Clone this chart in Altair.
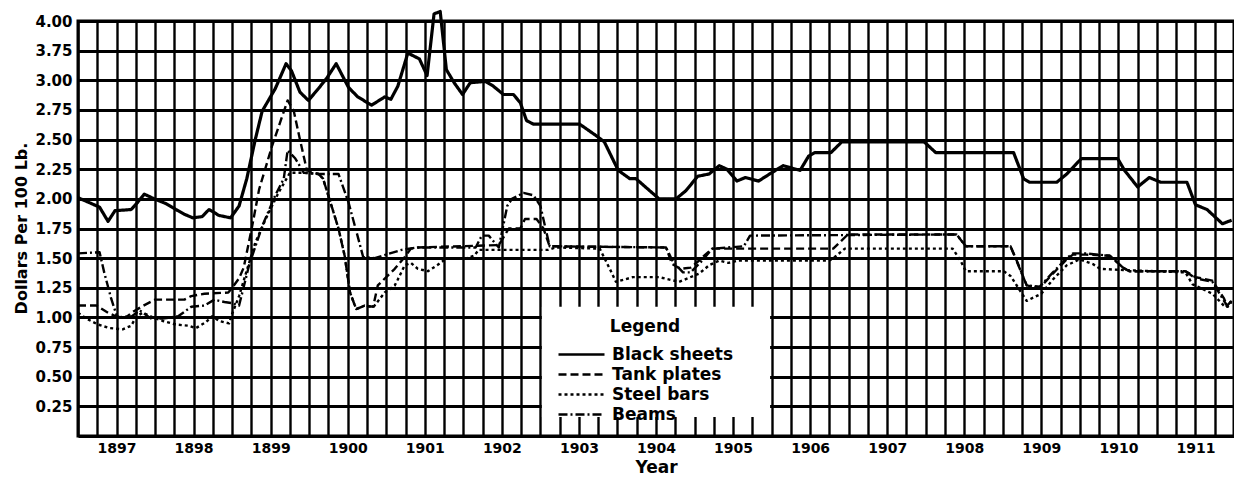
import altair as alt
import pandas as pd

SERIES = ["Black sheets", "Tank plates", "Steel bars", "Beams"]
DASHES = [[1, 0], [8, 4], [3, 3], [9, 3, 2, 3]]

BLACK_SHEETS = [
    (1897.00, 2.01), (1897.28, 1.93), (1897.39, 1.81), (1897.48, 1.90), (1897.69, 1.91),
    (1897.76, 1.96), (1897.86, 2.04), (1897.99, 2.00), (1898.14, 1.96), (1898.27, 1.91),
    (1898.38, 1.87), (1898.49, 1.84), (1898.61, 1.85), (1898.70, 1.91), (1898.83, 1.86),
    (1898.98, 1.84), (1899.09, 1.94), (1899.19, 2.17), (1899.30, 2.50), (1899.39, 2.74),
    (1899.56, 2.93), (1899.70, 3.14), (1899.77, 3.08), (1899.88, 2.90), (1899.99, 2.83),
    (1900.12, 2.93), (1900.23, 3.02), (1900.35, 3.14), (1900.51, 2.94), (1900.63, 2.86),
    (1900.81, 2.79), (1900.98, 2.86), (1901.06, 2.84), (1901.15, 2.95), (1901.28, 3.23),
    (1901.43, 3.18), (1901.53, 3.04), (1901.62, 3.56), (1901.70, 3.58), (1901.78, 3.09),
    (1901.88, 2.98), (1901.99, 2.88), (1902.09, 2.98), (1902.29, 2.99), (1902.39, 2.95),
    (1902.52, 2.88), (1902.65, 2.88), (1902.74, 2.81), (1902.82, 2.66), (1902.91, 2.63),
    (1903.51, 2.63), (1903.73, 2.53), (1903.83, 2.48), (1904.01, 2.24), (1904.16, 2.17),
    (1904.24, 2.17), (1904.54, 2.00), (1904.76, 2.00), (1904.89, 2.07), (1905.04, 2.19),
    (1905.19, 2.21), (1905.32, 2.28), (1905.42, 2.25), (1905.55, 2.15), (1905.66, 2.18),
    (1905.83, 2.15), (1906.00, 2.22), (1906.15, 2.28), (1906.37, 2.24), (1906.48, 2.36),
    (1906.56, 2.39), (1906.77, 2.39), (1906.91, 2.48), (1907.98, 2.48), (1908.13, 2.39),
    (1909.14, 2.39), (1909.27, 2.17), (1909.35, 2.14), (1909.70, 2.14), (1909.83, 2.21),
    (1910.02, 2.34), (1910.49, 2.34), (1910.58, 2.24), (1910.75, 2.10), (1910.90, 2.18),
    (1911.05, 2.14), (1911.39, 2.14), (1911.50, 1.95), (1911.65, 1.91), (1911.85, 1.79),
    (1911.97, 1.82),
]

TANK_PLATES = [
    (1897.00, 1.10), (1897.24, 1.10), (1897.39, 1.04), (1897.49, 1.01), (1897.62, 1.00),
    (1897.72, 1.05), (1897.85, 1.10), (1898.00, 1.15), (1898.38, 1.15), (1898.47, 1.18),
    (1898.64, 1.20), (1898.95, 1.21), (1899.00, 1.25), (1899.09, 1.33), (1899.15, 1.42),
    (1899.26, 1.77), (1899.35, 2.08), (1899.52, 2.45), (1899.72, 2.83), (1899.80, 2.74),
    (1899.88, 2.50), (1899.97, 2.24), (1900.12, 2.21), (1900.18, 2.17), (1900.29, 1.94),
    (1900.38, 1.75), (1900.46, 1.52), (1900.53, 1.21), (1900.61, 1.07), (1900.72, 1.10),
    (1900.83, 1.09), (1900.89, 1.27), (1901.11, 1.41), (1901.24, 1.51), (1901.32, 1.58),
    (1901.41, 1.59), (1902.46, 1.61), (1902.59, 1.75), (1902.74, 1.75), (1902.80, 1.83),
    (1902.95, 1.83), (1903.04, 1.75), (1903.12, 1.60), (1904.63, 1.59), (1904.71, 1.45),
    (1904.82, 1.41), (1904.95, 1.42), (1905.06, 1.48), (1905.14, 1.53), (1905.23, 1.58),
    (1906.80, 1.58), (1906.99, 1.70), (1908.40, 1.70), (1908.52, 1.60), (1909.10, 1.60),
    (1909.20, 1.45), (1909.31, 1.27), (1909.48, 1.25), (1909.65, 1.37), (1909.83, 1.49),
    (1909.91, 1.53), (1910.08, 1.53), (1910.39, 1.52), (1910.56, 1.42), (1910.64, 1.39),
    (1911.37, 1.39), (1911.50, 1.34), (1911.72, 1.31), (1911.87, 1.16), (1911.91, 1.10),
    (1911.97, 1.14),
]

STEEL_BARS = [
    (1897.00, 1.04), (1897.11, 0.99), (1897.26, 0.94), (1897.41, 0.91), (1897.58, 0.90),
    (1897.69, 0.93), (1897.76, 1.01), (1897.84, 1.04), (1897.97, 1.00), (1898.10, 0.97),
    (1898.27, 0.94), (1898.44, 0.93), (1898.53, 0.91), (1898.66, 0.96), (1898.74, 1.01),
    (1898.83, 0.97), (1898.96, 0.95), (1899.00, 1.03), (1899.09, 1.18), (1899.22, 1.46),
    (1899.30, 1.63), (1899.45, 1.85), (1899.60, 2.05), (1899.75, 2.22), (1899.93, 2.22),
    (1900.12, 2.21), (1900.18, 2.17), (1900.29, 1.94), (1900.38, 1.75), (1900.46, 1.52),
    (1900.53, 1.21), (1900.61, 1.07), (1900.72, 1.10), (1900.83, 1.085), (1900.98, 1.21),
    (1901.11, 1.27), (1901.15, 1.32), (1901.24, 1.44), (1901.32, 1.46), (1901.41, 1.41),
    (1901.54, 1.39), (1901.66, 1.44), (1901.79, 1.50), (1902.05, 1.50), (1902.14, 1.52),
    (1902.20, 1.57), (1903.10, 1.57), (1903.20, 1.59), (1903.77, 1.58), (1903.90, 1.41),
    (1903.98, 1.30), (1904.20, 1.34), (1904.54, 1.34), (1904.80, 1.30), (1905.06, 1.37),
    (1905.19, 1.44), (1905.32, 1.48), (1905.44, 1.46), (1905.57, 1.48), (1906.75, 1.48),
    (1906.82, 1.51), (1906.95, 1.58), (1908.35, 1.58), (1908.45, 1.48), (1908.52, 1.39),
    (1909.01, 1.39), (1909.10, 1.35), (1909.31, 1.14), (1909.50, 1.20), (1909.65, 1.32),
    (1909.83, 1.44), (1910.00, 1.49), (1910.17, 1.45), (1910.26, 1.41), (1910.56, 1.40),
    (1911.37, 1.38), (1911.46, 1.28), (1911.72, 1.20), (1911.89, 1.085), (1911.97, 1.13),
]

BEAMS = [
    (1897.00, 1.54), (1897.28, 1.55), (1897.34, 1.38), (1897.43, 1.16), (1897.51, 1.00),
    (1897.70, 1.01), (1897.80, 1.06), (1897.95, 0.99), (1898.10, 0.99), (1898.30, 1.01),
    (1898.47, 1.09), (1898.64, 1.10), (1898.77, 1.15), (1898.90, 1.13), (1899.00, 1.12),
    (1899.09, 1.10), (1899.22, 1.44), (1899.39, 1.77), (1899.56, 2.03), (1899.67, 2.17),
    (1899.72, 2.41), (1899.82, 2.34), (1899.93, 2.22), (1900.12, 2.21), (1900.38, 2.21),
    (1900.51, 1.97), (1900.61, 1.73), (1900.70, 1.51), (1900.85, 1.50), (1901.00, 1.53),
    (1901.20, 1.57), (1901.40, 1.59), (1902.16, 1.59), (1902.24, 1.69), (1902.33, 1.69),
    (1902.42, 1.62), (1902.46, 1.59), (1902.57, 1.94), (1902.63, 2.00), (1902.78, 2.05),
    (1902.91, 2.03), (1903.00, 1.94), (1903.12, 1.60), (1904.63, 1.59), (1904.72, 1.47),
    (1904.85, 1.38), (1904.95, 1.38), (1905.10, 1.48), (1905.23, 1.58), (1905.64, 1.60),
    (1905.72, 1.69), (1908.40, 1.70), (1908.52, 1.60), (1909.10, 1.60), (1909.31, 1.27),
    (1909.48, 1.26), (1909.65, 1.38), (1909.83, 1.50), (1909.91, 1.54), (1910.08, 1.54),
    (1910.39, 1.52), (1910.56, 1.42), (1910.64, 1.39), (1911.37, 1.39), (1911.50, 1.33),
    (1911.72, 1.30), (1911.87, 1.14), (1911.92, 1.09), (1911.97, 1.15),
]

# printed tick labels (as in the original print, index = value / 0.25)
Y_TICK_LABELS = ["", "0.25", "0.50", "0.75", "1.00", "1.25", "1.50", "1.75", "2.00",
                 "2.25", "2.50", "2.75", "3.00", "3.75", "4.00"]
X_START, X_END = 1897, 1912
LEGEND_BOX_X = [1903, 1906]
LEGEND_BOX_Y = [0.16, 1.09]

FONT = "DejaVu Sans"

rows = []
for name, pts in zip(SERIES, [BLACK_SHEETS, TANK_PLATES, STEEL_BARS, BEAMS]):
    for i, (t, v) in enumerate(pts):
        rows.append({"series": name, "t": t, "v": v, "i": i})
df = pd.DataFrame(rows)

x_scale = alt.Scale(domain=[X_START, X_END], nice=False, zero=False)
y_scale = alt.Scale(domain=[0, 3.5], nice=False, zero=False)

x_grid_vals = [X_START + k * 0.25 for k in range(int((X_END - X_START) * 4) + 1)]
y_grid_vals = [k * 0.25 for k in range(len(Y_TICK_LABELS))]

label_array = "[" + ",".join("'" + s + "'" for s in Y_TICK_LABELS) + "]"

x_axis = alt.Axis(
    values=x_grid_vals, grid=True, gridColor="black", gridWidth=2.4, gridOpacity=1,
    ticks=False, domain=False, labelOverlap=False, labelFlush=False, labelBound=False,
    labelExpr="(datum.value % 1 == 0.5) ? format(floor(datum.value), 'd') : ''",
    labelFont=FONT, labelFontSize=14, labelFontWeight="bold", labelColor="black",
    labelPadding=5, title="Year", titleFont=FONT, titleFontSize=17,
    titleFontWeight="bold", titleColor="black", titleY=31, titleBaseline="middle",
)
y_axis = alt.Axis(
    values=y_grid_vals, grid=True, gridColor="black", gridWidth=2.8, gridOpacity=1,
    ticks=False, domain=False, labelOverlap=False, labelFlush=False,
    labelExpr=label_array + "[round(datum.value * 4)]",
    labelFont=FONT, labelFontSize=15, labelFontWeight="bold", labelColor="black",
    labelPadding=6, title="Dollars Per 100 Lb.", titleFont=FONT, titleFontSize=16,
    titleFontWeight="bold", titleColor="black", titleAngle=270, titleX=-57,
    titleY=207, titleAlign="center", titleBaseline="middle",
)

box_df = pd.DataFrame({"x": [LEGEND_BOX_X[0]], "x2": [LEGEND_BOX_X[1]],
                       "y": [LEGEND_BOX_Y[0]], "y2": [LEGEND_BOX_Y[1]]})
box = alt.Chart(box_df).mark_rect(color="white", xOffset=1.5, x2Offset=-1.5).encode(
    x=alt.X("x:Q", scale=x_scale, axis=x_axis),
    x2="x2:Q",
    y=alt.Y("y:Q", scale=y_scale, axis=y_axis),
    y2="y2:Q",
)

lines = alt.Chart(df).mark_line(color="black", strokeJoin="round", strokeCap="butt").encode(
    x=alt.X("t:Q", scale=x_scale, axis=x_axis),
    y=alt.Y("v:Q", scale=y_scale, axis=y_axis),
    order="i:Q",
    strokeDash=alt.StrokeDash(
        "series:N",
        scale=alt.Scale(domain=SERIES, range=DASHES),
        legend=alt.Legend(
            title="Legend", orient="none", legendX=479, legendY=298, padding=0,
            titleFont=FONT, titleFontSize=17, titleFontWeight="bold", titleColor="black",
            titleAnchor="middle", titlePadding=10,
            labelFont=FONT, labelFontSize=17, labelFontWeight="bold", labelColor="black",
            labelLimit=400, labelOffset=6, rowPadding=2,
            symbolType="stroke", symbolSize=2116, symbolStrokeWidth=2.6,
            symbolStrokeColor="black", clipHeight=17,
        ),
    ),
    strokeWidth=alt.condition(alt.datum.series == "Black sheets", alt.value(3.2), alt.value(2.4)),
)

chart = alt.layer(box, lines).properties(
    width=1156, height=415,
    autosize=alt.AutoSizeParams(type="none"),
    padding={"left": 70, "top": 13, "right": 0, "bottom": 41},
    background="white",
).configure_view(stroke="black", strokeWidth=3)

chart.save("out.html", embed_options={"renderer": "svg", "actions": False})
